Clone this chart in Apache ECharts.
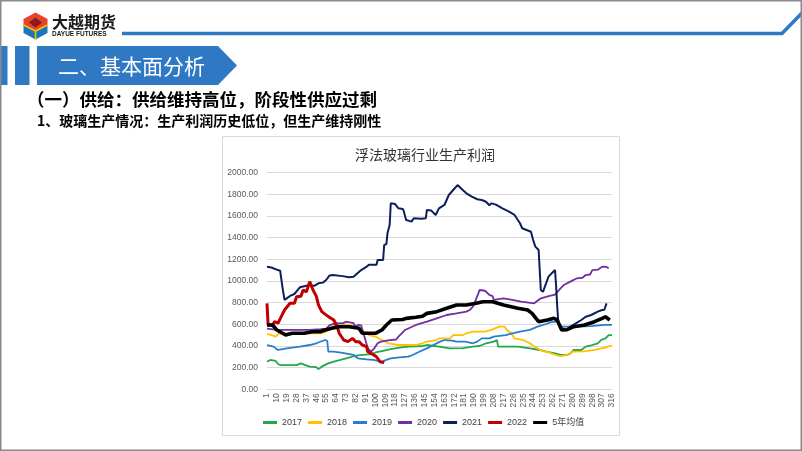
<!DOCTYPE html>
<html><head><meta charset="utf-8">
<script src="https://cdn.jsdelivr.net/npm/echarts@6/dist/echarts.min.js"></script>
<style>html,body{margin:0;padding:0;background:#fff}#c{width:802px;height:451px}</style>
</head><body><div id="c"></div>
<script>
const yTicks = [0, 2000, 200];
const seriesNames = ['2017','2018','2019','2020','2021','2022','5年均值'];
const s2017 = [[1,255],[4,271],[9,262],[11,234],[13,224],[28,224],[32,240],[36,224],[40,209],[46,205],[48,186],[51,209],[55,230],[57,240],[62,255],[68,271],[75,290],[82,310],[91,320],[96,325],[100,340],[107,355],[114,370],[122,385],[130,394],[143,400],[147,409],[158,394],[168,378],[180,380],[189,394],[195,400],[201,425],[208,440],[211,455],[212,394],[219,394],[230,394],[241,378],[250,363],[256,347],[264,332],[269,317],[275,317],[278,332],[281,363],[288,363],[292,394],[298,409],[303,425],[306,455],[310,470],[313,501],[316,501]];
const s2018 = [[1,511],[5,500],[9,486],[12,517],[50,517],[55,532],[60,560],[64,610],[68,609],[76,594],[82,578],[85,548],[90,530],[94,501],[100,486],[106,455],[112,425],[121,409],[137,409],[143,425],[147,440],[156,455],[158,470],[168,470],[171,501],[180,501],[183,517],[189,532],[200,532],[206,548],[213,578],[218,578],[220,548],[224,517],[227,470],[235,455],[241,425],[245,394],[251,362],[256,347],[264,320],[269,307],[275,317],[280,347],[290,350],[291,363],[300,365],[301,378],[310,385],[312,394],[316,403]];
const s2019 = [[1,409],[7,394],[11,363],[15,370],[19,378],[31,394],[40,409],[46,425],[54,455],[56,447],[57,347],[62,347],[70,337],[80,317],[84,286],[92,276],[98,271],[106,255],[110,271],[114,286],[122,295],[130,301],[134,317],[140,347],[147,378],[153,409],[159,440],[163,455],[170,450],[174,440],[182,440],[189,425],[193,440],[197,470],[204,470],[208,486],[219,501],[225,517],[232,532],[241,548],[248,578],[256,603],[260,620],[266,624],[270,578],[284,578],[297,584],[309,594],[316,594]];
const s2020 = [[1,560],[10,548],[40,548],[50,555],[55,560],[58,590],[63,609],[70,609],[73,624],[80,610],[82,578],[84,594],[87,590],[90,486],[93,378],[96,347],[99,378],[102,425],[105,440],[113,455],[119,460],[121,486],[124,517],[127,548],[137,594],[147,624],[156,655],[165,686],[174,701],[183,717],[186,732],[189,763],[191,809],[194,886],[195,917],[200,910],[204,871],[207,860],[208,825],[217,840],[225,825],[233,809],[245,794],[251,840],[259,862],[264,875],[269,932],[272,963],[278,994],[284,1025],[289,1030],[292,1055],[296,1060],[298,1101],[303,1105],[307,1132],[311,1130],[313,1117]];
const s2021 = [[1,1132],[5,1125],[11,1101],[13,1095],[15,950],[17,825],[19,840],[22,862],[26,880],[31,942],[40,963],[44,955],[48,979],[52,985],[55,1009],[58,1050],[61,1055],[70,1045],[76,1034],[80,1040],[87,1101],[92,1132],[94,1150],[101,1150],[102,1194],[107,1194],[108,1332],[110,1340],[111,1440],[113,1517],[114,1717],[118,1710],[121,1671],[125,1665],[126,1640],[128,1563],[131,1555],[133,1548],[135,1579],[142,1575],[146,1580],[147,1656],[151,1650],[152,1656],[155,1610],[158,1671],[163,1702],[167,1794],[171,1840],[175,1886],[178,1856],[183,1810],[188,1779],[193,1755],[197,1748],[201,1732],[204,1700],[206,1717],[210,1705],[216,1671],[222,1640],[227,1610],[232,1533],[234,1487],[238,1471],[242,1455],[244,1379],[246,1317],[249,1286],[251,917],[253,900],[258,1040],[261,1071],[264,1101],[265,947],[266,763],[267,609],[270,563],[275,548],[278,578],[283,609],[288,640],[292,670],[297,686],[303,717],[307,732],[309,735],[311,794]];
const s2022 = [[1,794],[2,594],[6,594],[8,625],[11,610],[14,671],[17,732],[22,794],[26,794],[28,855],[32,860],[34,917],[37,900],[40,994],[41,979],[43,917],[46,860],[48,778],[51,717],[57,671],[62,640],[65,578],[67,517],[71,455],[75,440],[79,470],[82,440],[85,440],[88,409],[92,394],[93,347],[94,332],[98,320],[101,301],[104,255],[108,246]];
const sAvg = [[1,594],[6,594],[10,548],[18,501],[24,517],[35,517],[42,532],[50,532],[54,548],[60,563],[67,578],[76,578],[85,563],[88,517],[100,517],[106,548],[110,594],[115,640],[125,645],[128,655],[137,665],[143,675],[147,701],[156,717],[165,748],[174,778],[183,778],[192,794],[198,809],[207,809],[217,778],[230,748],[239,732],[243,701],[249,624],[257,640],[263,655],[266,640],[270,548],[275,550],[281,578],[291,594],[300,624],[307,655],[310,670],[313,647],[314,640]];
const days = Array.from({length: 316}, (_, i) => String(i + 1));

const colors = ['#22a84a','#ffc000','#2a7ccc','#7030a0','#0c1f5c','#c00000','#000000'];
const widths = [1.8,1.8,1.8,1.8,2,3,3.6];
const allData = [s2017,s2018,s2019,s2020,s2021,s2022,sAvg];

const chart = echarts.init(document.getElementById('c'), null, {renderer: 'canvas'});
const FONT = '"Liberation Sans", "Noto Sans CJK SC", sans-serif';
const CJK = '"Noto Sans CJK SC", sans-serif';
const BLUE = '#2f78c4';

chart.setOption({
  animation: false,
  backgroundColor: '#ffffff',
  title: {
    text: '浮法玻璃行业生产利润', left: 350, top: 143,
    textStyle: {fontSize: 14, fontWeight: 'normal', color: '#333333', fontFamily: CJK}
  },
  grid: {left: 267, right: 190, top: 172.7, bottom: 61.7, containLabel: false},
  legend: {
    data: seriesNames.map((n, i) => ({name: n, icon: 'rect', itemStyle: {color: colors[i]}})),
    left: 258, top: 413, itemWidth: 14, itemHeight: 3, itemGap: 6,
    textStyle: {fontSize: 9, color: '#404040', fontFamily: FONT}
  },
  xAxis: {
    type: 'category', data: days, boundaryGap: false,
    axisLine: {lineStyle: {color: '#d9d9d9'}},
    axisTick: {show: false},
    axisLabel: {interval: 8, rotate: 90, fontSize: 8.5, color: '#595959', margin: 4, fontFamily: FONT}
  },
  yAxis: {
    type: 'value', min: yTicks[0], max: yTicks[1], interval: yTicks[2],
    axisLine: {show: false}, axisTick: {show: false},
    splitLine: {lineStyle: {color: '#d9d9d9', width: 1}},
    axisLabel: {formatter: v => v.toFixed(2), fontSize: 8.5, color: '#595959', margin: 9, fontFamily: FONT}
  },
  series: seriesNames.map((n, i) => ({
    name: n, type: 'line', symbol: 'none', z: 2 + i,
    data: allData[i].map(([d, v]) => [String(d), v]),
    lineStyle: {color: colors[i], width: widths[i]},
    itemStyle: {color: colors[i]}
  })),
  graphic: [
    {type: 'rect', shape: {x: 0.75, y: 0.75, width: 800.5, height: 449.5}, style: {fill: 'none', stroke: '#8a8a8a', lineWidth: 1.5}, z: 100},
    {type: 'rect', shape: {x: 222.5, y: 136.5, width: 397, height: 299}, style: {fill: 'none', stroke: '#d9d9d9', lineWidth: 1}},
    {type: 'polygon', shape: {points: [[35.5,12.5],[47.5,19],[47.5,25],[35.5,31],[23.5,25],[23.5,19]]}, style: {fill: '#e8412c'}},
    {type: 'polygon', shape: {points: [[23.5,25],[35.5,31],[47.5,25],[47.5,33],[35.5,39.5],[23.5,33]]}, style: {fill: '#1b75bb'}},
    {type: 'polygon', shape: {points: [[35.5,17.5],[42,22.5],[35.5,27.5],[29,22.5]]}, style: {fill: '#8b1a1a'}},
    {type: 'polyline', shape: {points: [[23.5,25],[35.5,31],[47.5,25]]}, style: {stroke: '#f5c400', lineWidth: 1.6, fill: 'none'}},
    {type: 'polyline', shape: {points: [[35.5,31],[35.5,39.5]]}, style: {stroke: '#f5c400', lineWidth: 1.6, fill: 'none'}},
    {type: 'text', style: {text: '大越期货', x: 52, y: 21.5, fill: '#1a1a1a', font: 'bold 16px ' + CJK, textVerticalAlign: 'middle'}},
    {type: 'text', style: {text: 'DAYUE FUTURES', x: 52, y: 34, fill: '#1a1a1a', font: 'bold 6.5px ' + FONT, textVerticalAlign: 'middle'}},
    {type: 'polyline', shape: {points: [[122,33.5],[782,33.5],[802,13]]}, style: {stroke: BLUE, lineWidth: 3.5, fill: 'none'}},
    {type: 'rect', shape: {x: 0, y: 46, width: 7.5, height: 39}, style: {fill: BLUE}},
    {type: 'rect', shape: {x: 15, y: 46, width: 14.5, height: 39}, style: {fill: BLUE}},
    {type: 'polygon', shape: {points: [[37,46],[218,46],[237,65.5],[218,85],[37,85]]}, style: {fill: BLUE}},
    {type: 'text', style: {text: '二、基本面分析', x: 58, y: 66, fill: '#ffffff', font: '21px ' + CJK, textVerticalAlign: 'middle'}},
    {type: 'text', style: {text: '（一）供给：供给维持高位，阶段性供应过剩', x: 27, y: 99, fill: '#000000', font: 'bold 17.5px ' + CJK, textVerticalAlign: 'middle'}},
    {type: 'text', style: {text: '1、玻璃生产情况：生产利润历史低位，但生产维持刚性', x: 37, y: 121, fill: '#000000', font: 'bold 14px ' + CJK, textVerticalAlign: 'middle'}}
  ]
});
</script></body></html>
